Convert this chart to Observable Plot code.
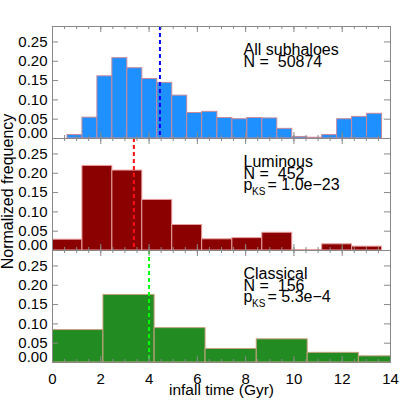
<!DOCTYPE html>
<html><head><meta charset="utf-8">
<script src="https://cdn.jsdelivr.net/npm/d3@7"></script>
<script src="https://cdn.jsdelivr.net/npm/@observablehq/plot@0.6"></script>
<style>
html,body{margin:0;padding:0;background:#fff;}
#chart{width:415px;height:415px;overflow:hidden;}
#chart svg{display:block;overflow:visible;}
svg text{white-space:pre;}
</style></head><body><div id="chart"></div>
<script>
// Bin edges (Gyr) and normalized frequencies
const allEdges = [0, 0.62, 1.24, 1.86, 2.48, 3.10, 3.72, 4.34, 4.96, 5.58, 6.20, 6.83, 7.45, 8.07, 8.69, 9.31, 9.93, 10.55, 11.17, 11.79, 12.41, 13.03, 13.65];
const allFreq  = [0.000, 0.009, 0.054, 0.161, 0.208, 0.182, 0.154, 0.144, 0.111, 0.066, 0.069, 0.053, 0.050, 0.053, 0.052, 0.025, 0.004, 0.002, 0.009, 0.050, 0.056, 0.064];
const lumEdges = [0, 1.24, 2.48, 3.72, 4.96, 6.20, 7.45, 8.69, 9.93, 11.17, 12.41, 13.65];
const lumFreq  = [0.028, 0.219, 0.207, 0.131, 0.066, 0.029, 0.032, 0.046, 0.001, 0.016, 0.010];
const clsEdges = [0, 2.11, 4.23, 6.34, 8.46, 10.57, 12.69, 14.8];
const clsFreq  = [0.084, 0.175, 0.089, 0.035, 0.060, 0.025, 0.016];

const panelNames = ["All subhaloes", "Luminous", "Classical"];
const panelN = ["N =  50874", "N =  452", "N =  156"];
const panelPks = [null, "= 1.0e\u221223", "= 5.3e\u22124"];
const medians = [4.45, 3.37, 4.0];
const fills = ["#1e90ff", "#8b0000", "#228b22"];
const strokes = ["#c8899a", "#e8a0a0", "#c8a080"];
const medianColors = ["#0000ff", "#ff1010", "#00ff00"];

const xTicks = [0, 2, 4, 6, 8, 10, 12, 14];
const xMinor = d3.range(0, 14.01, 0.5);
const yTicks = [0.05, 0.10, 0.15, 0.20, 0.25];
const xLabel = "infall time (Gyr)";
const yLabel = "Normalized frequency";

const edgesList = [allEdges, lumEdges, clsEdges];
const freqList = [allFreq, lumFreq, clsFreq];

const W = 415, ML = 52, MR = 25;
const innerW = W - ML - MR;
const innerH = 112;
const gray = "#888";
const font = "Liberation Sans, Arial, Helvetica, sans-serif";

function panel(i) {
  const first = i === 0, last = i === 2;
  const marginTop = first ? 26 : 0;
  const marginBottom = last ? 53 : 0;
  const edges = edgesList[i], freq = freqList[i];
  const bins = freq.map((v, j) => ({x1: edges[j], x2: edges[j + 1], v}));
  const marks = [
    Plot.rect(bins, {x1: "x1", x2: "x2", y1: d => 0, y2: "v", fill: fills[i], stroke: strokes[i], strokeWidth: 1, clip: true}),
    Plot.ruleX([medians[i]], {x: d => d, stroke: medianColors[i], strokeWidth: 2, strokeDasharray: "4,3"}),
    Plot.frame({stroke: gray}),
    Plot.tickY(yTicks, {y: d => d, stroke: gray, insetRight: innerW - 6}),
    Plot.tickY(yTicks, {y: d => d, stroke: gray, insetLeft: innerW - 6}),
    Plot.tickX(xTicks, {x: d => d, stroke: gray, insetTop: innerH - 6}),
    Plot.tickX(xTicks, {x: d => d, stroke: gray, insetBottom: innerH - 6}),
    Plot.tickX(xMinor, {x: d => d, stroke: gray, insetTop: innerH - 3}),
    Plot.tickX(xMinor, {x: d => d, stroke: gray, insetBottom: innerH - 3}),
    Plot.axisY({ticks: yTicks, tickSize: 0, tickPadding: 5, tickFormat: ".2f", label: null, fontSize: 15}),
    Plot.axisY({ticks: [0], tickSize: 0, tickPadding: 5, tickFormat: ".2f", label: null, fontSize: 15, dy: -5}),
    Plot.text([panelNames[i]], {text: d => d, frameAnchor: "top-left", dx: 191, dy: 28, lineAnchor: "bottom", textAnchor: "start", fontSize: 16}),
    Plot.text([panelN[i]], {text: d => d, frameAnchor: "top-left", dx: 191, dy: 40.5, lineAnchor: "bottom", textAnchor: "start", fontSize: 16})
  ];
  if (panelPks[i]) {
    marks.push(
      Plot.text(["p"], {text: d => d, frameAnchor: "top-left", dx: 191, dy: 51.5, lineAnchor: "bottom", textAnchor: "start", fontSize: 16}),
      Plot.text(["KS"], {text: d => d, frameAnchor: "top-left", dx: 199.5, dy: 56, lineAnchor: "bottom", textAnchor: "start", fontSize: 10}),
      Plot.text([panelPks[i]], {text: d => d, frameAnchor: "top-left", dx: 215, dy: 51.5, lineAnchor: "bottom", textAnchor: "start", fontSize: 16})
    );
  }
  if (i === 1) {
    marks.push(Plot.text([yLabel], {text: d => d, frameAnchor: "left", dx: -40, dy: -3, rotate: -90, lineAnchor: "bottom", textAnchor: "middle", fontSize: 16}));
  }
  if (last) {
    marks.push(
      Plot.axisX({ticks: xTicks, tickSize: 0, tickPadding: 11, tickFormat: d => String(d), label: null, fontSize: 15}),
      Plot.text([xLabel], {text: d => d, frameAnchor: "bottom", dy: 32, lineAnchor: "bottom", textAnchor: "middle", fontSize: 15.5})
    );
  }
  return Plot.plot({
    width: W,
    height: innerH + marginTop + marginBottom,
    marginLeft: ML, marginRight: MR, marginTop, marginBottom,
    style: {fontFamily: font, fontSize: "15px", overflow: "visible", background: "transparent", color: "#000"},
    x: {domain: [0, 14], axis: last ? undefined : null},
    y: {domain: [0, 0.29]},
    marks
  });
}

const chart = document.getElementById("chart");
for (let i = 0; i < 3; i++) chart.appendChild(panel(i));
</script>
</body></html>
